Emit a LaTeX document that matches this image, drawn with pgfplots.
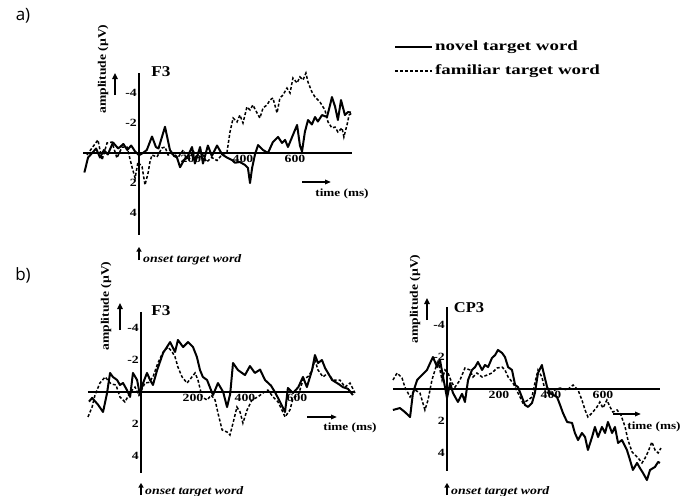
\documentclass[border=0pt]{standalone}
\usepackage{fontspec}
\setmainfont{Liberation Serif}
\newfontfamily\legfont{Liberation Serif}
\newfontfamily\sansf{Open Sans}
\usepackage{graphicx}
\usepackage{pgfplots}
\pgfplotsset{compat=1.18}
\usetikzlibrary{arrows.meta}
\newcommand\wide[2][1.25]{\scalebox{#1}[1]{#2}}

\pgfplotsset{
  eeg/.style={
    scale only axis, anchor=origin,
    axis lines=middle, axis line style={-, line width=1.7bp},
    y dir=reverse, clip=false, enlargelimits=false,
    major tick length=0pt,
    xtick={200,400,600}, xticklabels={\wide{200},\wide{400},\wide{600}},
    ytick={-4,-2,2,4}, yticklabels={\wide{-4},\wide{-2},\wide{2},\wide{4}},
    tick label style={font=\legfont\bfseries\fontsize{11bp}{12bp}\selectfont},
    xticklabel style={anchor=north, inner sep=1.5bp},
    yticklabel style={anchor=east, inner sep=2bp},
  },
  novel/.style={black, line width=2bp, line join=round},
  famil/.style={black, line width=1.5bp, dash pattern=on 3bp off 2bp},
}

\begin{document}
\begin{tikzpicture}
\path[use as bounding box] (0,0) rectangle (682bp,-496bp);

% ---------- panel a ----------
\begin{axis}[eeg, at={(139bp,-153bp)},
  xmin=-215, xmax=820, ymin=-5.33, ymax=5.47,
  width=269.1bp, height=162bp]
\addplot[novel] coordinates {
(-210,1.3)(-196,0.3)(-180,0.0)(-165,-0.3)(-150,0.3)(-135,-0.2)(-120,0.1)(-100,-0.7)
(-80,-0.3)(-60,-0.6)(-45,-0.2)(-30,-0.5)(-15,-0.1)(0,0.15)(15,0.0)(30,-0.2)(50,-1.1)
(65,-0.4)(75,-0.3)(100,-1.75)(119,-0.2)(135,0.2)(146,0.3)(158,0.95)(172,0.5)(185,0.3)
(204,-0.4)(215,0.7)(235,-0.4)(246,0.7)(265,-0.5)(280,0.2)(300,-0.5)(320,0.1)(338,0.3)
(358,0.47)(369,0.65)(388,0.6)(408,0.8)(419,1.0)(427,2.0)(435,1.0)(446,0.1)(458,-0.53)
(477,-0.2)(496,0.0)(515,-0.73)(535,-1.07)(550,-0.67)(562,-0.87)(573,-0.4)(592,-1.2)
(608,-1.87)(619,-0.5)(627,-0.1)(638,-1.4)(650,-2.2)(665,-1.9)(677,-2.4)(688,-2.1)
(704,-2.53)(723,-2.4)(735,-3.2)(742,-3.73)(754,-3.1)(765,-2.2)(777,-3.53)(792,-2.53)
(804,-2.73)(815,-2.7)};
\addplot[famil] coordinates {
(-200,0.13)(-181,-0.33)(-158,-0.87)(-142,0.47)(-123,-0.67)(-104,-0.73)(-85,0.33)
(-65,-0.4)(-46,-0.4)(-27,0.93)(-15,1.67)(-4,0.6)(12,0.93)(23,2.13)(35,1.33)(42,0.6)
(50,0.13)(69,0.27)(88,-0.33)(100,-0.4)(112,0.13)(131,0.0)(150,0.3)(170,-0.2)(190,0.5)
(210,-0.1)(225,0.4)(245,0.1)(260,0.6)(280,0.3)(300,0.5)(320,0.1)(338,0.0)(350,-1.4)
(362,-2.33)(377,-2.07)(388,-2.53)(400,-2.0)(415,-3.07)(427,-2.87)(438,-3.2)(454,-2.67)
(465,-2.33)(477,-3.0)(492,-3.2)(504,-3.53)(515,-3.67)(531,-2.67)(542,-3.67)(554,-3.87)
(569,-4.33)(581,-4.0)(592,-5.0)(608,-4.67)(619,-5.07)(631,-4.87)(642,-5.33)(650,-4.73)
(665,-4.07)(677,-3.73)(696,-3.4)(715,-2.87)(727,-2.07)(742,-1.67)(754,-1.73)(765,-1.4)
(781,-1.67)(788,-1.07)(800,-1.87)(808,-2.53)(819,-2.67)};
\end{axis}

% ---------- panel b left ----------
\begin{axis}[eeg, at={(141bp,-392bp)},
  xmin=-204, xmax=823, ymin=-5, ymax=5.06,
  width=267bp, height=161bp]
\addplot[novel] coordinates {
(-200,0.6)(-188,0.37)(-165,0.8)(-146,1.25)(-131,0.1)(-119,-1.19)(-108,-0.94)(-92,-0.75)
(-81,-0.44)(-69,-0.56)(-54,-0.12)(-42,0.31)(-31,-1.19)(-15,-0.75)(-4,0.19)(8,-0.56)
(23,-1.19)(35,-0.75)(46,-0.44)(62,-1.37)(85,-2.44)(112,-3.12)(131,-2.5)(142,-3.25)
(162,-2.81)(181,-3.12)(200,-2.81)(215,-2.19)(227,-1.37)(238,-0.94)(254,-0.75)(277,0.19)
(296,-0.56)(316,0.0)(331,0.94)(343,0.12)(354,-1.81)(373,-1.37)(400,-1.06)(419,-1.62)
(438,-1.19)(458,-1.4)(477,-0.75)(500,-0.4)(515,0.0)(535,0.62)(554,1.25)(565,-0.25)
(585,0.06)(605,-0.3)(623,-0.94)(638,-0.31)(658,-1.37)(669,-2.31)(681,-1.81)(696,-2.0)
(708,-1.5)(735,-0.75)(760,-0.5)(777,-0.3)(796,-0.2)(815,0.19)};
\addplot[famil] coordinates {
(-204,1.56)(-188,0.94)(-177,0.19)(-158,-0.56)(-138,-0.94)(-115,-0.5)(-96,-0.44)(-81,0.31)
(-62,0.62)(-40,0.0)(-23,-0.31)(-8,0.2)(15,-0.56)(30,-0.6)(46,-0.94)(65,-1.81)(85,-2.5)
(104,-2.81)(120,-2.5)(131,-2.19)(142,-1.56)(158,-0.94)(177,-0.56)(196,-0.94)(208,-1.19)
(219,-0.75)(235,0.31)(254,0.5)(270,0.2)(285,0.5)(296,1.31)(312,2.37)(331,2.5)(342,2.69)
(354,1.94)(369,0.94)(381,1.25)(392,1.94)(408,1.12)(427,0.5)(450,0.3)(469,0.06)(488,-0.12)
(508,0.31)(527,0.62)(542,1.12)(554,1.56)(573,1.12)(585,0.37)(605,0.2)(623,-0.75)
(645,-1.0)(658,-1.37)(669,-2.0)(681,-1.37)(700,-0.94)(719,-1.19)(738,-0.75)(765,-0.75)
(785,-0.31)(804,-0.56)(823,0.06)};
\end{axis}

% ---------- panel b right ----------
\begin{axis}[eeg, at={(447bp,-389bp)},
  xmin=-208, xmax=819, ymin=-5.1, ymax=5.1,
  width=267bp, height=163.2bp]
\addplot[novel] coordinates {
(-208,1.31)(-181,1.19)(-162,1.44)(-142,1.75)(-131,0.25)(-115,-0.56)(-104,-0.75)(-77,-1.19)
(-65,-1.62)(-54,-2.0)(-38,-1.37)(-27,-1.81)(-15,-0.75)(0,0.56)(12,-0.37)(23,0.25)(42,0.81)
(58,0.3)(69,0.81)(81,-0.56)(96,-1.19)(108,-1.37)(119,-1.69)(135,-1.19)(146,-1.5)(158,-1.37)
(173,-1.94)(185,-2.12)(196,-2.44)(212,-2.25)(223,-2.0)(235,-1.37)(250,-1.19)(262,-0.25)
(273,-0.12)(288,0.5)(300,1.0)(312,1.12)(327,0.87)(338,0.25)(350,-1.0)(365,-1.5)(369,-1.19)
(385,-0.12)(396,0.25)(423,0.5)(435,1.0)(446,1.5)(462,2.06)(481,2.12)(492,2.75)(504,3.19)
(519,2.75)(531,3.0)(542,3.81)(558,3.0)(569,2.37)(581,3.0)(596,2.37)(608,2.75)(619,2.06)
(635,2.75)(646,2.37)(658,3.37)(673,3.19)(692,3.81)(704,4.44)(715,5.06)(731,4.62)(742,4.94)
(754,5.25)(769,5.69)(781,5.06)(800,4.87)(812,4.56)(819,4.62)};
\addplot[famil] coordinates {
(-208,-0.56)(-192,-1.0)(-173,-0.69)(-162,-0.12)(-142,0.5)(-123,0.06)(-104,0.25)(-85,1.31)
(-73,0.69)(-58,-0.56)(-46,-1.19)(-35,-1.81)(-19,-0.56)(-8,-1.19)(4,-1.0)(19,-0.37)(31,-0.12)
(50,-0.56)(69,-1.31)(88,-1.19)(100,-0.75)(115,-1.0)(135,-0.75)(154,-0.87)(173,-1.0)
(192,-1.31)(212,-1.37)(223,-1.19)(235,-0.75)(254,-0.37)(273,0.25)(292,0.87)(312,0.69)
(327,0.5)(338,-0.37)(350,-1.19)(365,-0.75)(377,0.06)(396,0.37)(415,0.06)(435,-0.06)
(462,0.06)(485,-0.25)(504,0.06)(519,0.69)(531,1.31)(542,1.75)(558,1.5)(577,1.12)(588,0.81)
(600,1.19)(615,0.69)(627,1.12)(638,1.44)(654,1.31)(669,1.62)(685,2.37)(696,3.19)(712,3.94)
(723,4.12)(735,4.31)(750,4.62)(762,4.31)(773,3.94)(788,3.31)(800,3.81)(812,4.0)(823,3.69)};
\end{axis}

% ---------- annotations (image pixel coordinates) ----------
\begin{scope}[x=1bp, y=-1bp]
\def\lf{\legfont\bfseries}
% panel letters
\node[font=\sansf\fontsize{17bp}{18bp}\selectfont] at (23,16) {a)};
\node[font=\sansf\fontsize{17bp}{18bp}\selectfont] at (23,275) {b)};
% legend
\draw[line width=2bp] (395,47) -- (432,47);
\node[anchor=west, inner sep=1bp, font=\lf\fontsize{14bp}{15bp}\selectfont] at (434,47) {\wide[1.35]{novel target word}};
\draw[line width=1.5bp, dash pattern=on 3bp off 2bp] (395,71) -- (432,71);
\node[anchor=west, inner sep=1bp, font=\lf\fontsize{14bp}{15bp}\selectfont] at (434,71) {\wide[1.35]{familiar target word}};
% electrode names
\node[font=\lf\fontsize{15bp}{16bp}\selectfont] at (161,72) {\wide[1.15]{F3}};
\node[font=\lf\fontsize{15bp}{16bp}\selectfont] at (161,311) {\wide[1.15]{F3}};
\node[font=\lf\fontsize{15bp}{16bp}\selectfont] at (469,308) {\wide[1.1]{CP3}};
% amplitude labels + arrows
\node[rotate=90, font=\lf\fontsize{11.5bp}{12bp}\selectfont] at (103,69) {\wide[1.18]{amplitude (µV)}};
\draw[line width=2bp, -{Triangle[length=6bp,width=5.5bp]}] (115,95) -- (115,73);
\node[rotate=90, font=\lf\fontsize{11.5bp}{12bp}\selectfont] at (106,306) {\wide[1.18]{amplitude (µV)}};
\draw[line width=2bp, -{Triangle[length=6bp,width=5.5bp]}] (120,330) -- (120,303);
\node[rotate=90, font=\lf\fontsize{11.5bp}{12bp}\selectfont] at (415,299) {\wide[1.18]{amplitude (µV)}};
\draw[line width=2bp, -{Triangle[length=6bp,width=5.5bp]}] (427,320) -- (427,298);
% time labels + arrows
\draw[line width=1.6bp, -{Triangle[length=6bp,width=4.5bp]}] (302,182) -- (331,182);
\node[font=\lf\fontsize{11bp}{12bp}\selectfont] at (342,194) {\wide[1.2]{time (ms)}};
\draw[line width=1.6bp, -{Triangle[length=6bp,width=4.5bp]}] (307,417) -- (337,417);
\node[font=\lf\fontsize{11bp}{12bp}\selectfont] at (350,428) {\wide[1.2]{time (ms)}};
\draw[line width=1.6bp, -{Triangle[length=6bp,width=4.5bp]}] (613,414) -- (641,414);
\node[font=\lf\fontsize{11bp}{12bp}\selectfont] at (654,427) {\wide[1.2]{time (ms)}};
% onset labels
\draw[line width=1.5bp, -{Triangle[length=4.5bp,width=5bp]}] (139,260) -- (139,247);
\node[anchor=base west, inner sep=0pt, font=\legfont\bfseries\itshape\fontsize{11.5bp}{12bp}\selectfont] at (143,262) {\wide[1.2]{onset target word}};
\draw[line width=1.5bp, -{Triangle[length=4.5bp,width=5bp]}] (141,495) -- (141,483);
\node[anchor=base west, inner sep=0pt, font=\legfont\bfseries\itshape\fontsize{11.5bp}{12bp}\selectfont] at (145,494) {\wide[1.2]{onset target word}};
\draw[line width=1.5bp, -{Triangle[length=4.5bp,width=5bp]}] (447,495) -- (447,483);
\node[anchor=base west, inner sep=0pt, font=\legfont\bfseries\itshape\fontsize{11.5bp}{12bp}\selectfont] at (451,494) {\wide[1.2]{onset target word}};
\end{scope}
\end{tikzpicture}
\end{document}
